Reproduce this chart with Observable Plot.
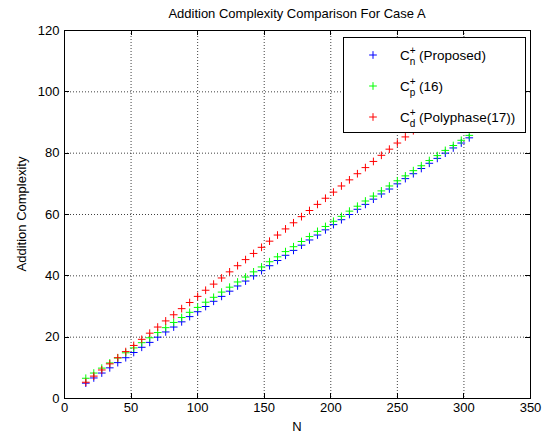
<!DOCTYPE html>
<html><head><meta charset="utf-8">
<script src="https://cdn.jsdelivr.net/npm/d3@7"></script>
<script src="https://cdn.jsdelivr.net/npm/@observablehq/plot@0.6"></script>
<style>
body{margin:0;background:#fff}
svg{font-family:"Liberation Sans",Arial,sans-serif}
</style>
</head><body><div id="chart"></div>
<script>
const N = [16,22,28,34,40,46,52,58,64,70,76,82,88,94,100,106,112,118,124,130,136,142,148,154,160,166,172,178,184,190,196,202,208,214,220,226,232,238,244,250,256,262,268,274,280,286,292,298,304];
const proposed = [5.0,6.7,8.3,10.0,11.7,13.3,15.0,16.7,18.3,20.0,21.7,23.3,25.0,26.7,28.3,30.0,31.7,33.3,35.0,36.7,38.3,40.0,41.7,43.3,45.0,46.7,48.3,50.0,51.7,53.3,55.0,56.7,58.3,60.0,61.7,63.3,65.0,66.7,68.3,70.0,71.7,73.3,75.0,76.7,78.3,80.0,81.7,83.3,85.0];
const ref16 = [6.6,8.3,9.9,11.6,13.2,14.9,16.5,18.2,19.8,21.5,23.1,24.8,26.4,28.1,29.7,31.4,33.0,34.7,36.3,38.0,39.6,41.3,42.9,44.6,46.2,47.9,49.5,51.2,52.8,54.5,56.1,57.8,59.4,61.1,62.7,64.4,66.0,67.7,69.3,71.0,72.6,74.3,75.9,77.6,79.2,80.9,82.5,84.2,85.8];
const polyphase = [5.3,7.3,9.3,11.3,13.3,15.3,17.3,19.3,21.3,23.3,25.3,27.3,29.3,31.3,33.3,35.3,37.3,39.3,41.3,43.3,45.3,47.3,49.3,51.3,53.3,55.3,57.3,59.3,61.3,63.3,65.3,67.3,69.3,71.3,73.3,75.3,77.3,79.3,81.3,83.3,85.3,87.3,89.3,91.3,93.3,95.3,97.3,99.3,101.3];
const xTicks = [0,50,100,150,200,250,300,350];
const yTicks = [0,20,40,60,80,100,120];
const seriesKeys = ["n","p","d"];
const seriesLabels = ["(Proposed)","(16)","(Polyphase(17))"];
const seriesColors = ["#0000ff","#00ff00","#ff0000"];
const titleText = "Addition Complexity Comparison For Case A";
const xLabel = "N";
const yLabel = "Addition Complexity";

const rows = [];
[proposed, ref16, polyphase].forEach((arr, s) =>
  arr.forEach((v, i) => rows.push({N: N[i], value: v, series: seriesKeys[s]})));

const FS = 13;
const plot = Plot.plot({
  width: 551, height: 437,
  marginLeft: 64, marginRight: 21, marginTop: 30, marginBottom: 39,
  style: {fontFamily: "Liberation Sans, Arial, sans-serif", fontSize: FS + "px", background: "white", color: "black", overflow: "visible"},
  x: {domain: [0, 350]},
  y: {domain: [0, 120]},
  color: {domain: seriesKeys, range: seriesColors},
  marks: [
    Plot.gridX(xTicks, {stroke: "#000", strokeOpacity: 0.75, strokeDasharray: "1,2"}),
    Plot.gridY(yTicks, {stroke: "#000", strokeOpacity: 0.75, strokeDasharray: "1,2"}),
    Plot.axisX(xTicks, {tickSize: 0, tickPadding: 4, label: null, fontSize: FS}),
    Plot.axisY(yTicks, {tickSize: 0, tickPadding: 5, label: null, fontSize: FS}),
    Plot.dot(rows, {x: "N", y: "value", stroke: "series", symbol: "plus", r: 2.6, strokeWidth: 1}),
    Plot.frame({stroke: "black", strokeWidth: 1})
  ]
});
document.getElementById("chart").appendChild(plot);

const svg = d3.select(plot);
const sx = plot.scale("x"), sy = plot.scale("y");
const fx = d3.scaleLinear(sx.domain, sx.range);
const fy = d3.scaleLinear(sy.domain, sy.range);
const [x0, x1] = sx.range, [y0, y1] = sy.range;
const g = svg.append("g").attr("stroke", "black").attr("stroke-width", 1);
const tk = 5;
xTicks.forEach(t => {
  const x = Math.round(fx(t)) + 0.5;
  g.append("line").attr("x1", x).attr("x2", x).attr("y1", y0).attr("y2", y0 - tk);
  g.append("line").attr("x1", x).attr("x2", x).attr("y1", y1).attr("y2", y1 + tk);
});
yTicks.forEach(t => {
  const y = Math.round(fy(t)) + 0.5;
  g.append("line").attr("y1", y).attr("y2", y).attr("x1", x0).attr("x2", x0 + tk);
  g.append("line").attr("y1", y).attr("y2", y).attr("x1", x1).attr("x2", x1 - tk);
});

const cx = (x0 + x1) / 2, cy = (y0 + y1) / 2;
svg.append("text").attr("x", cx).attr("y", 18).attr("text-anchor", "middle")
  .attr("font-size", FS).attr("fill", "black").text(titleText);
svg.append("text").attr("x", cx).attr("y", 431).attr("text-anchor", "middle")
  .attr("font-size", FS).attr("fill", "black").text(xLabel);
svg.append("text").attr("transform", `translate(26,${cy}) rotate(-90)`).attr("text-anchor", "middle")
  .attr("font-size", FS).attr("fill", "black").text(yLabel);

const lg = svg.append("g");
lg.append("rect").attr("x", 343.5).attr("y", 37.5).attr("width", 182).attr("height", 95)
  .attr("fill", "white").attr("stroke", "black").attr("stroke-width", 1);
seriesKeys.forEach((k, i) => {
  const by = 60 + i * 31;
  lg.append("path").attr("d", d3.symbol(d3.symbolPlus, 2.6 * 2.6 * Math.PI)())
    .attr("transform", `translate(373,${by - 5})`)
    .attr("fill", "none").attr("stroke", seriesColors[i]).attr("stroke-width", 1);
  const t = lg.append("text").attr("x", 400).attr("y", by).attr("text-anchor", "start")
    .attr("font-size", 13.5).attr("fill", "black");
  t.append("tspan").text("C");
  t.append("tspan").attr("dy", -6.5).attr("font-size", 10).text("+");
  t.append("tspan").attr("dx", -5.8).attr("dy", 11).attr("font-size", 10).text(k);
  t.append("tspan").attr("dy", -4.5).text(" " + seriesLabels[i]);
});
</script>
</body></html>
